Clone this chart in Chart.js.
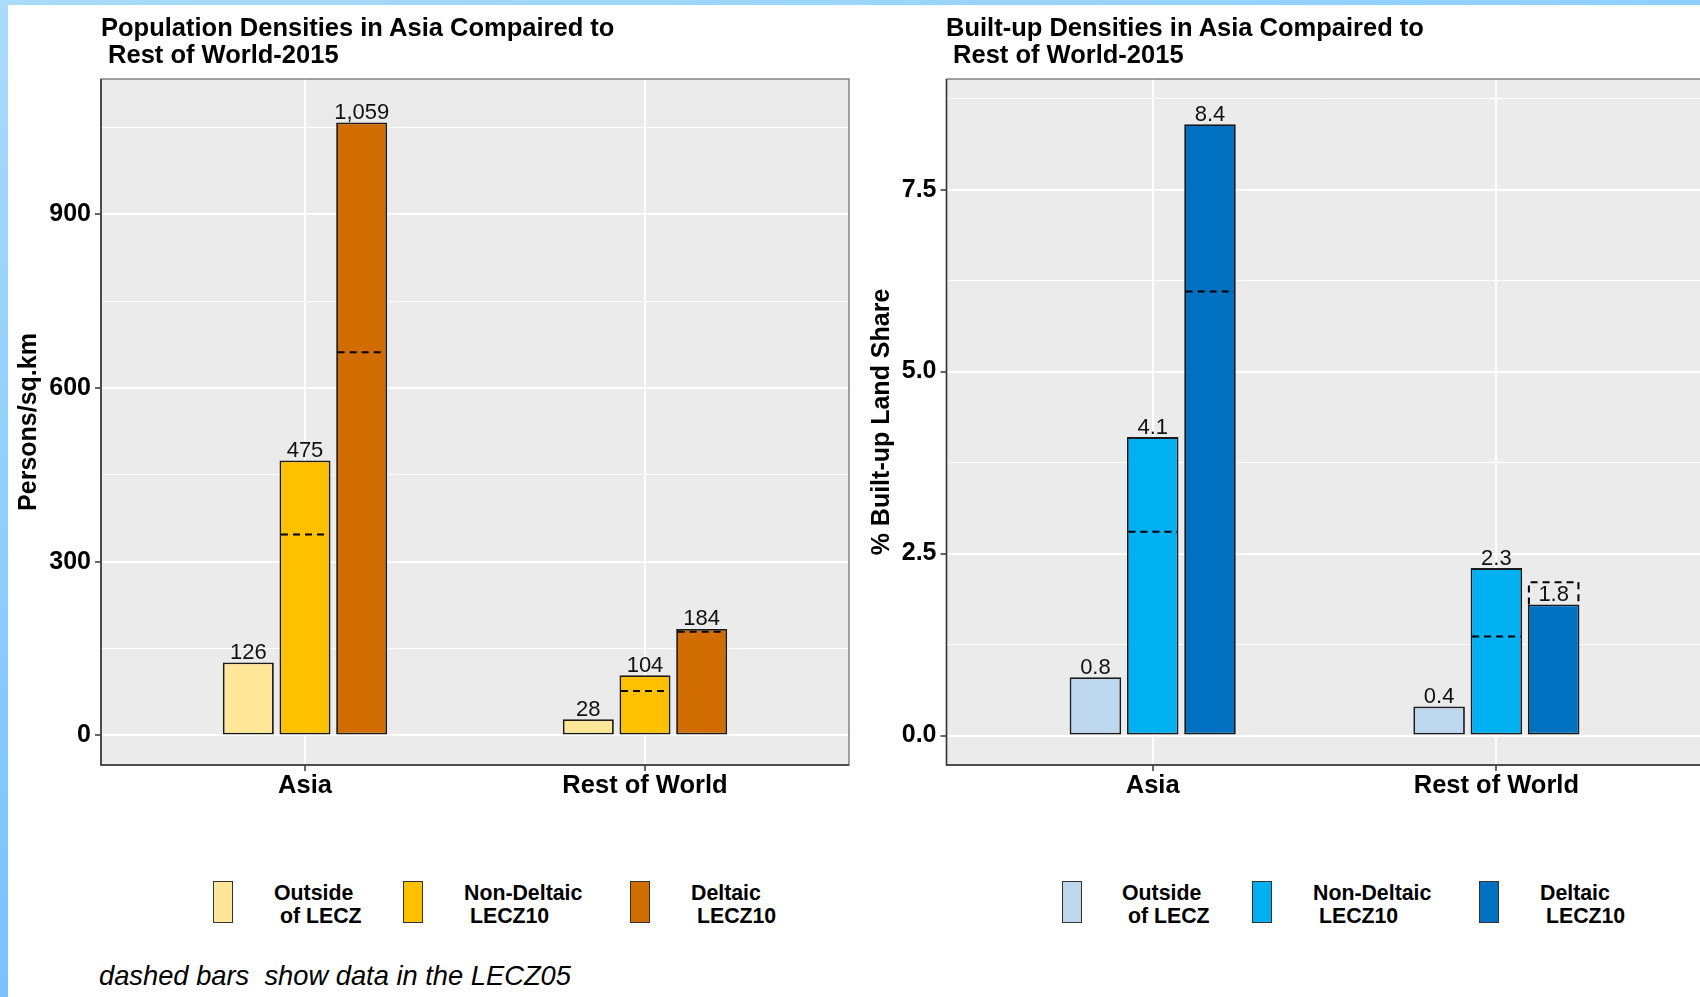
<!DOCTYPE html>
<html>
<head>
<meta charset="utf-8">
<script src="https://cdn.jsdelivr.net/npm/chart.js@4.4.1/dist/chart.umd.min.js"></script>
<style>
  html, body { margin: 0; padding: 0; width: 1700px; height: 997px; overflow: hidden; background: #fff;
    font-family: "Liberation Sans", Arial, sans-serif; color: #000; }
  #frameTop { position: absolute; left: 0; top: 0; width: 1700px; height: 5px; z-index: 5;
    background: linear-gradient(90deg, #a9dbfb, #8ecfff); }
  #frameLeft { position: absolute; left: 0; top: 0; width: 8px; height: 997px; z-index: 5;
    background: linear-gradient(180deg, #a9dbfb, #78c2ff); }
  .panel { position: absolute; top: 0; }
  .title { position: absolute; top: 14px; font-weight: bold; font-size: 25.5px; line-height: 27px; white-space: pre; }
  .key { position: absolute; top: 881px; width: 20px; height: 42px; box-sizing: border-box; border: 1.5px solid #333; }
  .lab { position: absolute; top: 882px; font-weight: bold; font-size: 21.3px; line-height: 23px; white-space: pre; }
  #caption { position: absolute; left: 99px; top: 961px; font-style: italic; font-size: 27.3px; line-height: 30px; white-space: pre; }
</style>
</head>
<body>
<div id="frameTop"></div>
<div id="frameLeft"></div>

<div class="panel" style="left:0;width:850px;height:830px;">
  <canvas id="popChart" width="850" height="830"></canvas>
</div>
<div class="panel" style="left:850px;width:856px;height:830px;">
  <canvas id="builtChart" width="856" height="830"></canvas>
</div>

<div class="title" style="left:101px;">Population Densities in Asia Compaired to
 Rest of World-2015</div>
<div class="title" style="left:946px;">Built-up Densities in Asia Compaired to
 Rest of World-2015</div>

<div id="legends"></div>
<div id="caption">dashed bars  show data in the LECZ05</div>

<script>
// ---- data ----
const categories = ['Asia', 'Rest of World'];
const seriesNames = ['Outside\n of LECZ', 'Non-Deltaic\n LECZ10', 'Deltaic\n LECZ10'];

// Population density (persons / sq.km), LECZ10
const popOutside = [126, 28];
const popNonDeltaic = [475, 104];
const popDeltaic = [1059, 184];
// same in the LECZ05 (dashed outlines)
const popNonDeltaic05 = [347, 77];
const popDeltaic05 = [662, 179];

// Built-up land share (%), LECZ10
const builtOutside = [0.8, 0.4];
const builtNonDeltaic = [4.1, 2.3];
const builtDeltaic = [8.4, 1.8];
// same in the LECZ05 (dashed outlines)
const builtNonDeltaic05 = [2.8, 1.36];
const builtDeltaic05 = [6.1, 2.12];

const popMajorTicks = [0, 300, 600, 900];
const popMinorTicks = [150, 450, 750, 1050];
const builtMajorTicks = [0, 2.5, 5.0, 7.5];
const builtMinorTicks = [1.25, 3.75, 6.25, 8.75];

const popColors = ['#FFE699', '#FFC000', '#D16D00'];
const builtColors = ['#BDD7EE', '#00B0F0', '#0070C0'];

// ---- drawing ----
const FONT = '"Liberation Sans", Arial, sans-serif';
Chart.defaults.font.family = FONT;

// grey panel, LECZ05 outlines, value labels and panel border
function panelPlugin(labelFormat) {
  return {
    id: 'panelDecor',
    beforeDraw(chart) {
      const { ctx, chartArea: a } = chart;
      ctx.save();
      ctx.fillStyle = '#EBEBEB';
      ctx.fillRect(a.left, a.top, a.right - a.left, a.bottom - a.top);
      ctx.restore();
    },
    afterDatasetsDraw(chart) {
      const { ctx } = chart;
      ctx.save();
      chart.data.datasets.forEach((ds, di) => {
        if (ds.kind !== 'dashed') return;
        const meta = chart.getDatasetMeta(di);
        const solidMeta = chart.getDatasetMeta(ds.solidIndex);
        meta.data.forEach((el, i) => {
          const solidEl = solidMeta.data[i];
          const l = el.x - el.width / 2, r = el.x + el.width / 2;
          ctx.setLineDash([7, 5]);
          ctx.lineWidth = 2;
          ctx.strokeStyle = '#000';
          ctx.beginPath();
          if (el.y < solidEl.y - 1) {
            ctx.moveTo(l + 1, solidEl.y);
            ctx.lineTo(l + 1, el.y + 1);
            ctx.lineTo(r - 1, el.y + 1);
            ctx.lineTo(r - 1, solidEl.y);
          } else {
            ctx.moveTo(l + 1.5, el.y);
            ctx.lineTo(r - 1.5, el.y);
          }
          ctx.stroke();
        });
      });
      ctx.setLineDash([]);
      ctx.font = '22px ' + FONT;
      ctx.fillStyle = '#111';
      ctx.textAlign = 'center';
      ctx.textBaseline = 'alphabetic';
      chart.data.datasets.forEach((ds, di) => {
        if (ds.kind !== 'solid') return;
        const meta = chart.getDatasetMeta(di);
        meta.data.forEach((el, i) => {
          ctx.fillText(labelFormat(ds.data[i].y), el.x, el.y - 3.5);
        });
      });
      ctx.restore();
    },
    afterDraw(chart) {
      const { ctx, chartArea: a } = chart;
      ctx.save();
      ctx.strokeStyle = '#666';
      ctx.lineWidth = 1.2;
      ctx.strokeRect(a.left, a.top, a.right - a.left, a.bottom - a.top);
      ctx.strokeStyle = '#333';
      ctx.lineWidth = 1.5;
      ctx.beginPath();
      ctx.moveTo(a.left, a.top);
      ctx.lineTo(a.left, a.bottom);
      ctx.lineTo(a.right, a.bottom);
      ctx.stroke();
      ctx.restore();
    }
  };
}

function makeChart(id, cfg) {
  const toPoints = vals => vals.map((v, i) => ({ x: i + 1, y: v }));
  const solid = [cfg.outside, cfg.nonDeltaic, cfg.deltaic];
  const dashed = [null, cfg.nonDeltaic05, cfg.deltaic05];
  const datasets = [];
  solid.forEach((vals, k) => datasets.push({
    label: seriesNames[k], kind: 'solid', stack: 'g' + k,
    data: toPoints(vals), backgroundColor: cfg.colors[k],
    borderColor: '#1a1a1a', borderWidth: 1.8, borderSkipped: false
  }));
  dashed.forEach((vals, k) => {
    if (!vals) return;
    datasets.push({
      label: seriesNames[k] + ' LECZ05', kind: 'dashed', stack: 'g' + k, solidIndex: k,
      data: toPoints(vals), backgroundColor: 'rgba(0,0,0,0)', borderWidth: 0
    });
  });
  const isMajor = v => cfg.major.some(m => Math.abs(m - v) < 1e-9);
  return new Chart(document.getElementById(id), {
    type: 'bar',
    data: { datasets },
    plugins: [panelPlugin(cfg.labelFormat)],
    options: {
      responsive: false,
      animation: false,
      devicePixelRatio: 1,
      categoryPercentage: 0.5,
      barPercentage: 0.9,
      layout: { padding: { top: 79, left: 0, right: cfg.padRight, bottom: 0 } },
      events: [],
      plugins: {
        legend: { display: false },
        tooltip: { enabled: false }
      },
      scales: {
        x: {
          type: 'linear', min: 0.4, max: 2.6, offset: false,
          afterBuildTicks: s => { s.ticks = categories.map((c, i) => ({ value: i + 1 })); },
          afterFit: s => { s.height = 65; },
          ticks: {
            autoSkip: false, maxRotation: 0, minRotation: 0, padding: 0, color: '#000',
            font: { size: 25.5, weight: 'bold' },
            callback: v => categories[Math.round(v) - 1]
          },
          grid: { offset: false, color: '#ffffff', lineWidth: 2, tickLength: 6, tickColor: '#333', tickWidth: 1.5 },
          border: { display: false }
        },
        y: {
          type: 'linear', min: cfg.yMin, max: cfg.yMax, stacked: false,
          afterBuildTicks: s => {
            s.ticks = cfg.major.concat(cfg.minor).sort((a, b) => a - b).map(v => ({ value: v }));
          },
          afterFit: s => { s.width = cfg.yAxisWidth; },
          ticks: {
            autoSkip: false, padding: 4, color: '#000',
            font: { size: 25, weight: 'bold' },
            callback: v => isMajor(v) ? cfg.tickFormat(v) : ''
          },
          grid: {
            color: '#ffffff',
            lineWidth: c => isMajor(c.tick.value) ? 2 : 1,
            tickColor: c => isMajor(c.tick.value) ? '#333' : 'rgba(0,0,0,0)',
            tickWidth: 1.5, tickLength: 6
          },
          border: { display: false },
          title: {
            display: true, text: cfg.yTitle, color: '#000',
            font: { size: 25, weight: 'bold' },
            padding: { top: cfg.yTitlePad, bottom: 0 }
          }
        }
      }
    }
  });
}

makeChart('popChart', {
  outside: popOutside, nonDeltaic: popNonDeltaic, deltaic: popDeltaic,
  nonDeltaic05: popNonDeltaic05, deltaic05: popDeltaic05,
  colors: popColors, major: popMajorTicks, minor: popMinorTicks,
  yMin: -51, yMax: 1134, yAxisWidth: 101, yTitlePad: 14, padRight: 1,
  yTitle: 'Persons/sq.km',
  tickFormat: v => Number(v).toLocaleString('en-US'),
  labelFormat: v => Number(v).toLocaleString('en-US')
});

makeChart('builtChart', {
  outside: builtOutside, nonDeltaic: builtNonDeltaic, deltaic: builtDeltaic,
  nonDeltaic05: builtNonDeltaic05, deltaic05: builtDeltaic05,
  colors: builtColors, major: builtMajorTicks, minor: builtMinorTicks,
  yMin: -0.405, yMax: 9.02, yAxisWidth: 96.5, yTitlePad: 17.5, padRight: 3.4,
  yTitle: '% Built-up Land Share',
  tickFormat: v => Number(v).toFixed(1),
  labelFormat: v => Number(v).toFixed(1)
});

// legends under each panel
function buildLegend(colors, keyXs, labXs) {
  const host = document.getElementById('legends');
  colors.forEach((c, k) => {
    const key = document.createElement('div');
    key.className = 'key';
    key.style.left = keyXs[k] + 'px';
    key.style.background = c;
    host.appendChild(key);
    const lab = document.createElement('div');
    lab.className = 'lab';
    lab.style.left = labXs[k] + 'px';
    lab.textContent = seriesNames[k];
    host.appendChild(lab);
  });
}
buildLegend(popColors, [213, 403, 630], [274, 464, 691]);
buildLegend(builtColors, [1062, 1252, 1479], [1122, 1313, 1540]);
</script>
</body>
</html>
